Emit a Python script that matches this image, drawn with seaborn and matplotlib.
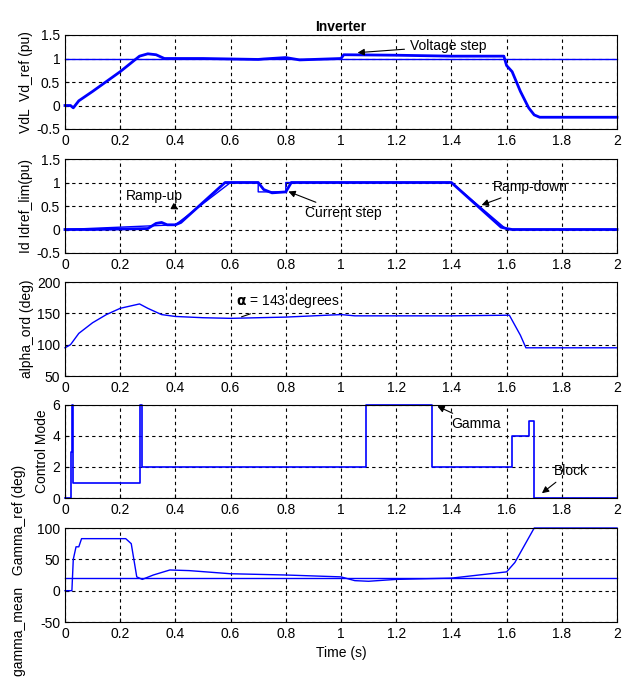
import matplotlib
matplotlib.use("Agg")
import matplotlib.pyplot as plt
import seaborn as sns
import pandas as pd

# Subplot 1: VdL and Vd_ref
vd_t = [0.0, 0.02, 0.03, 0.05, 0.1, 0.2, 0.27, 0.3, 0.33, 0.36, 0.5, 0.7, 0.72, 0.8, 0.85, 1.0, 1.01, 1.2, 1.4, 1.59, 1.6, 1.62, 1.65, 1.68, 1.7, 1.72, 2.0]
vd_v = [0.0, 0.0, -0.05, 0.1, 0.3, 0.72, 1.05, 1.1, 1.08, 1.0, 1.0, 0.98, 0.99, 1.02, 0.97, 1.0, 1.08, 1.07, 1.05, 1.05, 0.85, 0.72, 0.3, -0.05, -0.2, -0.25, -0.25]
vdref_t = [0.0, 2.0]
vdref_v = [1.0, 1.0]

# Subplot 2: Id and Idref_lim
id_t = [0.0, 0.1, 0.3, 0.33, 0.35, 0.37, 0.4, 0.42, 0.58, 0.7, 0.72, 0.75, 0.8, 0.82, 1.0, 1.4, 1.58, 1.6, 1.62, 2.0]
id_v = [0.0, 0.0, 0.02, 0.13, 0.15, 0.1, 0.1, 0.15, 1.0, 1.0, 0.85, 0.78, 0.8, 1.0, 1.0, 1.0, 0.05, 0.02, 0.0, 0.0]
idref_t = [0.0, 0.32, 0.4, 0.6, 0.7, 0.7, 0.8, 0.8, 1.4, 1.6, 2.0]
idref_v = [0.0, 0.08, 0.1, 1.0, 1.0, 0.8, 0.8, 1.0, 1.0, 0.0, 0.0]

# Subplot 3: alpha_ord
al_t = [0.0, 0.02, 0.05, 0.1, 0.15, 0.2, 0.27, 0.3, 0.35, 0.4, 0.5, 0.6, 0.8, 1.0, 1.05, 1.2, 1.4, 1.61, 1.65, 1.67, 2.0]
al_v = [95, 100, 118, 135, 148, 158, 165, 158, 148, 145, 143, 142, 144, 148, 146, 146, 146, 147, 115, 95, 95]

# Subplot 4: Control Mode (step)
cm_t = [0.0, 0.02, 0.02, 0.025, 0.025, 0.03, 0.03, 0.27, 0.27, 0.28, 0.28, 1.09, 1.09, 1.33, 1.33, 1.62, 1.62, 1.68, 1.68, 1.7, 1.7, 2.0]
cm_v = [0, 0, 3, 3, 6, 6, 1, 1, 6, 6, 2, 2, 6, 6, 2, 2, 4, 4, 5, 5, 0, 0]

# Subplot 5: gamma_mean and Gamma_ref
gm_t = [0.0, 0.025, 0.03, 0.04, 0.05, 0.06, 0.1, 0.22, 0.24, 0.26, 0.28, 0.32, 0.38, 0.45, 0.6, 0.8, 1.0, 1.05, 1.1, 1.2, 1.4, 1.5, 1.6, 1.63, 1.7, 2.0]
gm_v = [0, 0, 50, 70, 70, 83, 83, 83, 75, 22, 18, 25, 33, 32, 27, 25, 22, 16, 15, 18, 20, 25, 30, 45, 100, 100]
gr_t = [0.0, 2.0]
gr_v = [20, 20]

BLUE = "#0000ff"
plt.rcParams["font.family"] = "Liberation Sans"
fig = plt.figure(figsize=(6.35, 6.83), dpi=100)
W, H = 635, 683
L, R = 65, 617
boxes = [(35, 129), (159, 253), (282, 376), (405, 498), (528, 622)]
axs = [fig.add_axes([L / W, 1 - b / H, (R - L) / W, (b - t) / H]) for t, b in boxes]

def line(ax, t, v, lw=1.0):
    sns.lineplot(data=pd.DataFrame({"t": t, "v": v}), x="t", y="v", ax=ax, color=BLUE, lw=lw, sort=False, estimator=None)
    ax.lines[-1].set_clip_on(False)

line(axs[0], vdref_t, vdref_v)
line(axs[0], vd_t, vd_v, 2.0)
line(axs[1], idref_t, idref_v)
line(axs[1], id_t, id_v, 2.0)
line(axs[2], al_t, al_v)
line(axs[3], cm_t, cm_v, 1.2)
line(axs[4], gr_t, gr_v)
line(axs[4], gm_t, gm_v)

ylims = [(-0.5, 1.5), (-0.5, 1.5), (50, 200), (0, 6), (-50, 100)]
yticks = [[-0.5, 0, 0.5, 1, 1.5], [-0.5, 0, 0.5, 1, 1.5], [50, 100, 150, 200], [0, 2, 4, 6], [-50, 0, 50, 100]]
ylabels = ["VdL  Vd_ref (pu)", "Id Idref_lim(pu)", "alpha_ord (deg)", "Control Mode", "gamma_mean   Gamma_ref (deg)"]
for ax, yl, yt, lab in zip(axs, ylims, yticks, ylabels):
    ax.set_xlim(0, 2)
    ax.set_ylim(*yl)
    ax.set_yticks(yt)
    ax.set_yticklabels([("%g" % v) for v in yt])
    ax.set_xticks([0, 0.2, 0.4, 0.6, 0.8, 1, 1.2, 1.4, 1.6, 1.8, 2])
    ax.set_xticklabels(["0", "0.2", "0.4", "0.6", "0.8", "1", "1.2", "1.4", "1.6", "1.8", "2"])
    ax.grid(True, ls=(0, (3, 3)), color="black", lw=0.8)
    ax.tick_params(labelsize=10, direction="in", length=3)
    ax.set_xlabel("")
    ax.set_ylabel(lab, fontsize=10, labelpad=2)
    for s in ax.spines.values():
        s.set_linewidth(0.8)
axs[4].set_ylabel(ylabels[4], fontsize=10, labelpad=8, y=0.55)
axs[4].set_xlabel("Time (s)", fontsize=10)
axs[0].set_title("Inverter", fontsize=10, fontweight="bold", pad=3)
fig.patch.set_facecolor("white")

ap = dict(arrowstyle="-|>", color="black", lw=0.8, mutation_scale=10)
axs[0].annotate("Voltage step", xy=(1.05, 1.12), xytext=(1.25, 1.18), fontsize=10, arrowprops=ap)
axs[1].annotate("Ramp-up", xy=(0.42, 0.4), xytext=(0.22, 0.62), fontsize=10, arrowprops=ap)
axs[1].annotate("Current step", xy=(0.8, 0.83), xytext=(0.87, 0.35), fontsize=10, arrowprops=ap, va="center")
axs[1].annotate("Ramp-down", xy=(1.5, 0.5), xytext=(1.55, 0.9), fontsize=10, arrowprops=ap, va="center")
axs[2].annotate(r"$\mathbf{\alpha}$ = 143 degrees", xy=(0.63, 143), xytext=(0.62, 163), fontsize=10, arrowprops=dict(arrowstyle="-", color="black", lw=0.8))
axs[3].annotate("Gamma", xy=(1.34, 6), xytext=(1.4, 4.5), fontsize=10, arrowprops=ap)
axs[3].annotate("Block", xy=(1.72, 0.2), xytext=(1.77, 1.5), fontsize=10, arrowprops=ap)

fig.savefig("out.png", dpi=100, facecolor="white")
